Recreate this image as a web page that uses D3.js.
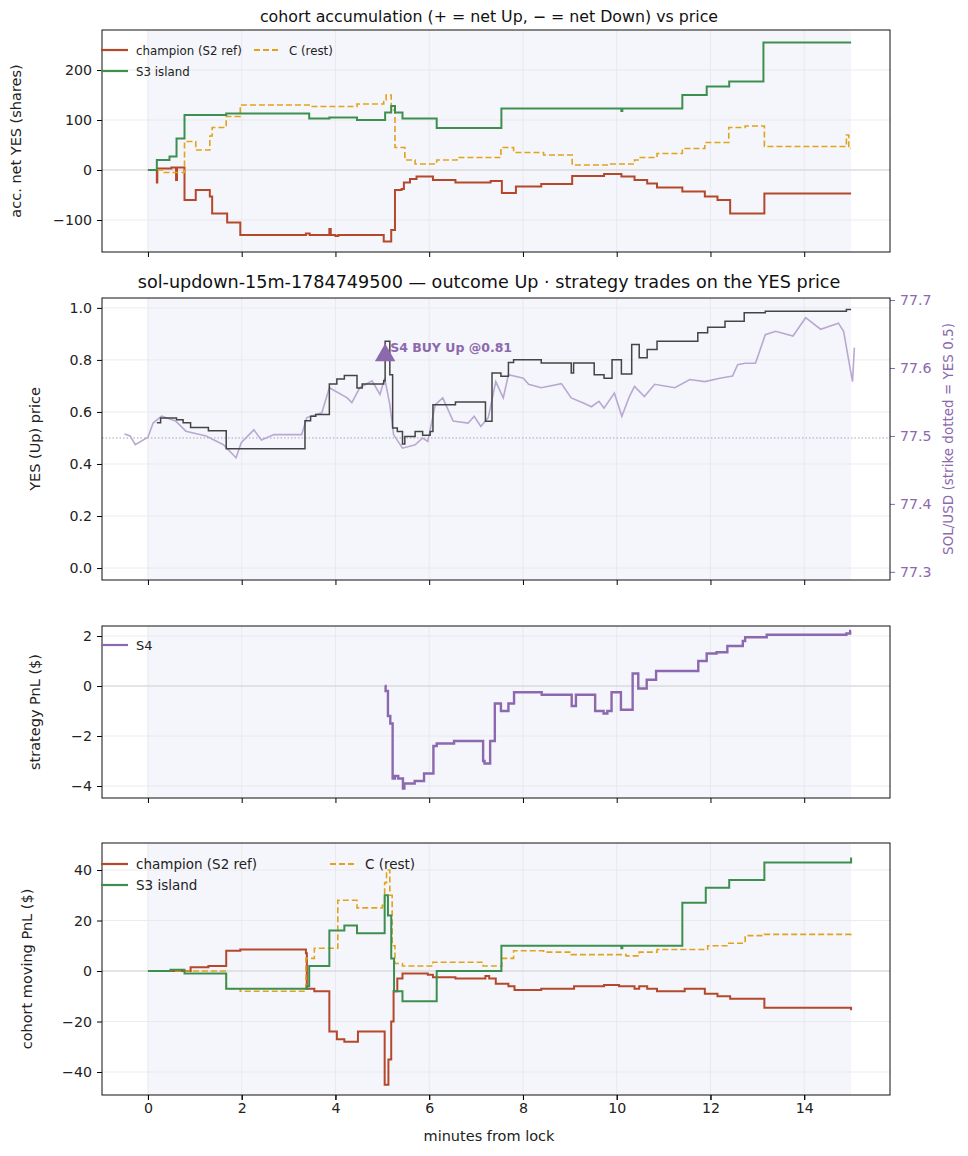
<!DOCTYPE html>
<html lang="en">
<head>
<meta charset="UTF-8">
<title>cohort accumulation</title>
<script src="https://d3js.org/d3.v7.min.js"></script>
<style>
  body { margin: 0; background: #fff; }
  text { font-family: "DejaVu Sans", sans-serif; }
</style>
</head>
<body>
<script>
"use strict";
// ---- data (minutes from lock, value) ----
var accChampion = [[0,0],[0.19,-25],[0.2,3],[0.5,5],[0.6,-20],[0.62,5],[0.78,-60],[1.02,-40],[1.32,-53],[1.37,-87],[1.69,-105],[1.97,-130],[3.37,-127],[3.45,-130],[3.87,-118],[3.9,-130],[4.0,-132],[4.06,-130],[5.03,-143],[5.19,-120],[5.27,-40],[5.41,-38],[5.46,-25],[5.59,-18],[5.73,-13],[6.08,-20],[6.56,-25],[7.31,-22],[7.55,-46],[7.85,-33],[8.39,-28],[9.05,-12],[9.73,-8],[10.1,-13],[10.38,-20],[10.65,-27],[10.86,-35],[11.4,-43],[11.88,-53],[12.15,-60],[12.42,-87],[13.15,-47],[15.0,-47]];
var accS3 = [[0,0],[0.19,20],[0.46,27],[0.61,63],[0.78,110],[1.67,113],[3.44,103],[3.87,105],[4.46,100],[5.06,115],[5.19,128],[5.27,115],[5.43,103],[6.16,84],[7.54,123],[10.1,118],[10.12,123],[11.4,150],[11.92,167],[12.4,177],[13.13,255],[15.0,255]];
var accC = [[0,0],[0.3,-5],[0.78,57],[1.02,40],[1.32,68],[1.37,85],[1.67,107],[1.97,130],[3.44,127],[4.46,132],[5.03,140],[5.08,150],[5.19,120],[5.27,45],[5.48,20],[5.7,12],[6.16,20],[6.59,25],[7.53,45],[7.8,35],[8.44,30],[9.05,10],[9.84,12],[10.38,20],[10.48,25],[10.86,33],[11.4,43],[11.88,55],[12.39,85],[12.74,88],[13.15,47],[14.9,70],[14.95,43],[15.0,43]];

var yesPrice = [[0.19,0.558],[0.27,0.577],[0.61,0.57],[0.75,0.558],[0.91,0.54],[1.29,0.528],[1.67,0.459],[3.35,0.566],[3.47,0.583],[3.58,0.59],[3.87,0.707],[4.03,0.727],[4.19,0.74],[4.46,0.692],[4.57,0.707],[5.03,0.72],[5.06,0.872],[5.16,0.743],[5.22,0.538],[5.32,0.525],[5.43,0.477],[5.48,0.506],[5.7,0.525],[5.86,0.51],[6.02,0.525],[6.08,0.628],[6.56,0.638],[7.2,0.564],[7.34,0.75],[7.53,0.737],[7.69,0.79],[7.8,0.801],[8.39,0.788],[9.03,0.75],[9.08,0.788],[9.52,0.743],[9.73,0.73],[9.9,0.801],[10.1,0.746],[10.32,0.859],[10.48,0.808],[10.65,0.84],[10.86,0.872],[11.73,0.904],[11.94,0.926],[12.31,0.949],[12.72,0.981],[13.17,0.987],[14.9,0.994],[15.0,0.994]];
var solPrice = [[-0.5,77.503],[-0.38,77.500],[-0.27,77.487],[0,77.498],[0.11,77.519],[0.29,77.529],[0.59,77.522],[0.81,77.507],[1.24,77.500],[1.61,77.487],[1.88,77.468],[1.99,77.490],[2.26,77.509],[2.42,77.494],[2.69,77.502],[3.28,77.502],[3.39,77.527],[3.71,77.534],[3.87,77.571],[4.25,77.556],[4.35,77.549],[4.52,77.571],[4.78,77.581],[4.95,77.561],[5.05,77.585],[5.16,77.546],[5.24,77.502],[5.43,77.482],[5.7,77.487],[5.86,77.497],[5.97,77.492],[6.13,77.546],[6.29,77.556],[6.51,77.522],[6.83,77.519],[6.96,77.529],[7.1,77.514],[7.26,77.527],[7.42,77.580],[7.58,77.556],[7.69,77.590],[8.01,77.585],[8.12,77.576],[8.39,77.571],[8.82,77.577],[9.03,77.556],[9.3,77.548],[9.46,77.543],[9.62,77.551],[9.73,77.541],[9.95,77.563],[10.11,77.529],[10.27,77.558],[10.38,77.573],[10.59,77.558],[10.81,77.576],[11.24,77.571],[11.56,77.583],[11.88,77.580],[12.2,77.585],[12.47,77.588],[12.58,77.605],[12.74,77.607],[12.96,77.607],[13.17,77.649],[13.39,77.654],[13.76,77.647],[14.03,77.674],[14.35,77.657],[14.73,77.666],[14.84,77.654],[14.94,77.615],[15.03,77.580],[15.07,77.630]];

var pnlS4 = [[5.05,0],[5.07,-0.2],[5.12,-1.2],[5.17,-1.5],[5.22,-3.7],[5.27,-3.6],[5.34,-3.7],[5.44,-4.1],[5.47,-3.9],[5.69,-3.8],[5.89,-3.5],[6.09,-2.4],[6.16,-2.3],[6.53,-2.2],[7.15,-3.0],[7.18,-3.1],[7.3,-2.2],[7.4,-0.7],[7.53,-1.0],[7.69,-0.7],[7.81,-0.25],[8.4,-0.35],[9.04,-0.8],[9.13,-0.35],[9.54,-1.0],[9.72,-1.1],[9.8,-1.0],[9.89,-0.25],[10.09,-0.95],[10.34,0.5],[10.46,-0.1],[10.64,0.25],[10.84,0.6],[11.74,1.0],[11.92,1.3],[12.13,1.35],[12.36,1.6],[12.69,1.8],[12.74,1.95],[13.2,2.05],[14.9,2.1],[14.98,2.2],[15.0,2.2]];

var pnlChampion = [[0,0],[0.91,1.5],[1.29,2],[1.67,8],[1.97,8.5],[3.37,7],[3.39,-7],[3.55,-8],[3.87,-24],[4.03,-27],[4.19,-28],[4.48,-24],[5.05,-45],[5.13,-35],[5.19,-20],[5.24,-8],[5.32,-3],[5.43,-1],[5.97,-1.5],[6.08,-2.5],[6.56,-3],[7.2,-2],[7.28,-3],[7.42,-5],[7.69,-6],[7.82,-7.5],[8.39,-7],[9.09,-6],[9.73,-5.5],[10.05,-6],[10.38,-7],[10.48,-6],[10.65,-7],[10.86,-8],[11.45,-7],[11.88,-9],[12.15,-10],[12.42,-11],[13.15,-14.5],[15.0,-15.5]];
var pnlS3 = [[0,0],[0.48,0.5],[0.78,-1],[1.67,-7],[3.39,-6],[3.44,2],[3.87,16],[4.19,18],[4.46,15],[5.05,30],[5.12,22],[5.19,5],[5.25,-8],[5.43,-12],[6.16,0],[7.54,10],[10.1,9],[10.12,10],[11.4,27],[11.9,33],[12.4,36],[13.15,43],[15.0,45]];
var pnlC = [[0,0],[1.67,-7],[1.97,-8],[3.37,5],[3.55,9],[4.05,28],[4.46,25],[5.0,26],[5.05,35],[5.09,40],[5.16,30],[5.21,10],[5.27,3],[5.43,2],[6.08,3.5],[7.15,2],[7.55,5],[7.8,8],[8.44,7.5],[9.03,6.5],[10.2,6],[10.48,7.5],[10.86,8.5],[11.94,10],[12.37,11],[12.74,14],[13.15,14.5],[15.0,15]];

var xTicks = [0, 2, 4, 6, 8, 10, 12, 14];
var buyTrade = {t: 5.06, price: 0.81, label: "S4 BUY Up @0.81"};

var C_CHAMP = "#b5482b", C_S3 = "#3d8f50", C_C = "#e2a21a", C_S4 = "#8c68ae",
    C_YES = "#444444", C_SOL = "#b9a8d1";

var W = 968, H = 1156, TICK_FS = 14.2, LABEL_FS = 14.5;
var svg = d3.select("body").append("svg").attr("width", W).attr("height", H);
var x = d3.scaleLinear().domain([-0.98, 15.83]).range([102, 890]);

function panel(top, bottom, domain, ticks, fmt, ylabel, labelX) {
  var y = d3.scaleLinear().domain(domain).range([bottom, top]);
  var g = svg.append("g");
  g.append("rect").attr("x", x(0)).attr("y", top).attr("width", x(15) - x(0))
    .attr("height", bottom - top).attr("fill", "#f5f6fb");
  g.selectAll(".vg").data(xTicks).enter().append("line")
    .attr("x1", d => x(d)).attr("x2", d => x(d)).attr("y1", top).attr("y2", bottom)
    .attr("stroke", "#e6e6ea").attr("stroke-width", 0.8);
  g.selectAll(".hg").data(ticks).enter().append("line")
    .attr("x1", 102).attr("x2", 890).attr("y1", d => y(d)).attr("y2", d => y(d))
    .attr("stroke", "#e6e6ea").attr("stroke-width", 0.8);
  var ya = g.append("g").attr("transform", "translate(102,0)")
    .call(d3.axisLeft(y).tickValues(ticks).tickFormat(fmt).tickSize(5).tickPadding(5));
  ya.select(".domain").remove();
  ya.selectAll("text").attr("font-size", TICK_FS).attr("fill", "#222").attr("font-family", "DejaVu Sans");
  var xa = g.append("g").attr("transform", "translate(0," + bottom + ")")
    .call(d3.axisBottom(x).tickValues(xTicks).tickSize(5).tickFormat(""));
  xa.select(".domain").remove();
  g.append("text").attr("transform", "translate(" + labelX + "," + ((top + bottom) / 2) + ") rotate(-90)")
    .attr("text-anchor", "middle").attr("font-size", LABEL_FS).attr("fill", "#222").text(ylabel);
  return {y: y, g: g, top: top, bottom: bottom};
}
function frame(p) {
  p.g.append("rect").attr("x", 102).attr("y", p.top).attr("width", 788)
    .attr("height", p.bottom - p.top).attr("fill", "none").attr("stroke", "#111").attr("stroke-width", 1);
}
function step(p, data, color, width, dash) {
  var line = d3.line().x(d => x(d[0])).y(d => p.y(d[1])).curve(d3.curveStepAfter);
  p.g.append("path").datum(data).attr("fill", "none").attr("stroke", color)
    .attr("stroke-width", width).attr("stroke-dasharray", dash || null).attr("d", line);
}
function zeroLine(p) {
  p.g.append("line").attr("x1", 102).attr("x2", 890).attr("y1", p.y(0)).attr("y2", p.y(0))
    .attr("stroke", "#d4d4d4").attr("stroke-width", 1);
}
function legend(p, items, x0, y0, colW, fs) {
  items.forEach(function (it) {
    var lx = x0 + it.col * colW, ly = y0 + it.row * 21;
    p.g.append("line").attr("x1", lx).attr("x2", lx + 27).attr("y1", ly).attr("y2", ly)
      .attr("stroke", it.color).attr("stroke-width", 2.2).attr("stroke-dasharray", it.dash || null);
    p.g.append("text").attr("x", lx + 35).attr("y", ly + 4.5).attr("font-size", fs)
      .attr("fill", "#222").text(it.name);
  });
}
var fmtInt = d3.format("d"), fmt1 = d3.format(".1f");
var minus = function (f) { return function (d) { return f(d).replace("-", "\u2212"); }; };

// panel 1
var p1 = panel(30, 252, [-164, 280], [-100, 0, 100, 200], minus(fmtInt), "acc. net YES (shares)", 21);
zeroLine(p1);
step(p1, accChampion, C_CHAMP, 2);
step(p1, accC, C_C, 1.6, "6,3");
step(p1, accS3, C_S3, 2);
frame(p1);
legend(p1, [{name: "champion (S2 ref)", color: C_CHAMP, col: 0, row: 0},
            {name: "C (rest)", color: C_C, dash: "6,3", col: 1, row: 0},
            {name: "S3 island", color: C_S3, col: 0, row: 1}], 101, 50, 153, 11.8);
svg.append("text").attr("x", 489).attr("y", 22).attr("text-anchor", "middle").attr("font-size", 15.8)
  .attr("fill", "#111").text("cohort accumulation (+ = net Up, \u2212 = net Down) vs price");

// panel 2
var p2 = panel(298, 580, [-0.046, 1.038], [0, 0.2, 0.4, 0.6, 0.8, 1.0], fmt1, "YES (Up) price", 40);
var ySol = d3.scaleLinear().domain([77.288, 77.703]).range([580, 298]);
p2.g.append("line").attr("x1", 102).attr("x2", 890).attr("y1", p2.y(0.5)).attr("y2", p2.y(0.5))
  .attr("stroke", "#a9a4bd").attr("stroke-width", 1).attr("stroke-dasharray", "1.5,2");
p2.g.append("path").datum(solPrice).attr("fill", "none").attr("stroke", C_SOL).attr("stroke-width", 1.6)
  .attr("d", d3.line().x(d => x(d[0])).y(d => ySol(d[1])));
step(p2, yesPrice, C_YES, 1.5);
p2.g.append("path").attr("d", d3.symbol().type(d3.symbolTriangle).size(180)())
  .attr("transform", "translate(" + x(buyTrade.t) + "," + (p2.y(buyTrade.price) - 2) + ")").attr("fill", C_S4);
p2.g.append("text").attr("x", x(buyTrade.t) + 5).attr("y", p2.y(buyTrade.price) - 5)
  .attr("font-size", 12.5).attr("font-weight", "bold").attr("fill", C_S4).text(buyTrade.label);
var ra = p2.g.append("g").attr("transform", "translate(890,0)")
  .call(d3.axisRight(ySol).tickValues([77.3, 77.4, 77.5, 77.6, 77.7]).tickFormat(fmt1).tickSize(5).tickPadding(5));
ra.select(".domain").remove();
ra.selectAll("line").attr("stroke", C_S4);
ra.selectAll("text").attr("font-size", TICK_FS).attr("fill", C_S4).attr("font-family", "DejaVu Sans");
p2.g.append("text").attr("transform", "translate(953,439) rotate(-90)").attr("text-anchor", "middle")
  .attr("font-size", 13.5).attr("fill", C_S4).text("SOL/USD (strike dotted = YES 0.5)");
frame(p2);
svg.append("text").attr("x", 489).attr("y", 288).attr("text-anchor", "middle").attr("font-size", 17.6)
  .attr("fill", "#111").text("sol-updown-15m-1784749500 \u2014 outcome Up \u00b7 strategy trades on the YES price");

// panel 3
var p3 = panel(626, 798, [-4.48, 2.4], [-4, -2, 0, 2], minus(fmtInt), "strategy PnL ($)", 40);
zeroLine(p3);
step(p3, pnlS4, C_S4, 2.4);
frame(p3);
legend(p3, [{name: "S4", color: C_S4, col: 0, row: 0}], 101, 645, 150, 13);

// panel 4
var p4 = panel(843, 1095, [-49.1, 50.7], [-40, -20, 0, 20, 40], minus(fmtInt), "cohort moving PnL ($)", 32);
zeroLine(p4);
step(p4, pnlChampion, C_CHAMP, 2);
step(p4, pnlC, C_C, 1.6, "6,3");
step(p4, pnlS3, C_S3, 2);
frame(p4);
legend(p4, [{name: "champion (S2 ref)", color: C_CHAMP, col: 0, row: 0},
            {name: "C (rest)", color: C_C, dash: "6,3", col: 1, row: 0},
            {name: "S3 island", color: C_S3, col: 0, row: 1}], 101, 864, 229, 13.5);
var xb = svg.append("g").attr("transform", "translate(0,1095)")
  .call(d3.axisBottom(x).tickValues(xTicks).tickSize(5).tickFormat(fmtInt));
xb.select(".domain").remove();
xb.selectAll("text").attr("font-size", TICK_FS).attr("fill", "#222").attr("font-family", "DejaVu Sans");
svg.append("text").attr("x", 489).attr("y", 1141).attr("text-anchor", "middle").attr("font-size", LABEL_FS)
  .attr("fill", "#222").text("minutes from lock");
</script>
</body>
</html>
